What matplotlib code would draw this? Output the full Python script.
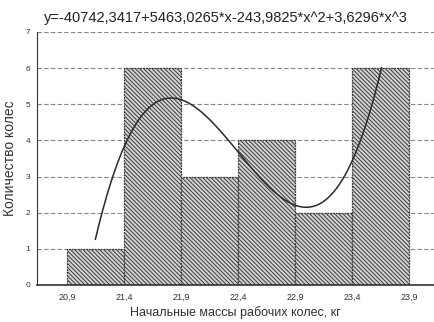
import numpy as np
import matplotlib.pyplot as plt

plt.rcParams['font.family'] = ['Liberation Sans', 'DejaVu Sans']
plt.rcParams['hatch.color'] = '#444444'
plt.rcParams['hatch.linewidth'] = 0.7

bin_edges = [20.9, 21.4, 21.9, 22.4, 22.9, 23.4, 23.9]
tick_labels = ['20,9', '21,4', '21,9', '22,4', '22,9', '23,4', '23,9']
counts = [1, 6, 3, 4, 2, 6]
coefs = [-40742.3417, 5463.0265, -243.9825, 3.6296]  # y = a0 + a1*x + a2*x^2 + a3*x^3
# printed coefficients are rounded, the drawn curve sits ~0.28 higher
curve_shift = 0.28
curve_range = (21.15, 23.66)

fig = plt.figure(figsize=(4.34, 3.22), dpi=100)
ax = fig.add_axes([0.085, 0.115, 0.915, 0.786])

widths = np.diff(bin_edges)
ax.bar(bin_edges[:-1], counts, width=widths, align='edge',
       facecolor='#d4d4d4', edgecolor='#3a3a3a', linewidth=0.9,
       linestyle=(0, (1.5, 0.8)), hatch='\\\\\\\\\\\\\\\\', zorder=2)

xs = np.linspace(curve_range[0], curve_range[1], 300)
ys = coefs[0] + coefs[1] * xs + coefs[2] * xs**2 + coefs[3] * xs**3 + curve_shift
ax.plot(xs, ys, color='#2a2a2a', lw=1.1, zorder=3)

ax.set_xlim(20.637, 24.12)
ax.set_ylim(0, 7)
ax.set_xticks(bin_edges)
ax.set_xticklabels(tick_labels, fontsize=6.5, color='#333333')
ax.set_yticks(range(8))
ax.tick_params(axis='y', labelsize=6, length=0, pad=5, labelcolor='#333333')
ax.tick_params(axis='x', length=0, pad=6)
ax.yaxis.grid(True, linestyle=(0, (4, 2)), color='#888888', lw=0.8, zorder=1)
ax.set_axisbelow(True)
for s in ['top', 'right']:
    ax.spines[s].set_visible(False)
ax.spines['left'].set_color('#333333')
ax.spines['bottom'].set_color('#333333')
ax.spines['bottom'].set_linewidth(1.2)

ax.set_xlabel('Начальные массы рабочих колес, кг', fontsize=9, color='#333333', labelpad=3)
ax.set_ylabel('Количество колес', fontsize=10, color='#333333', labelpad=6)
ax.set_title('y=-40742,3417+5463,0265*x-243,9825*x^2+3,6296*x^3',
             fontsize=10.5, color='#222222', pad=7, x=0.475)

fig.savefig('out.png', dpi=100)
